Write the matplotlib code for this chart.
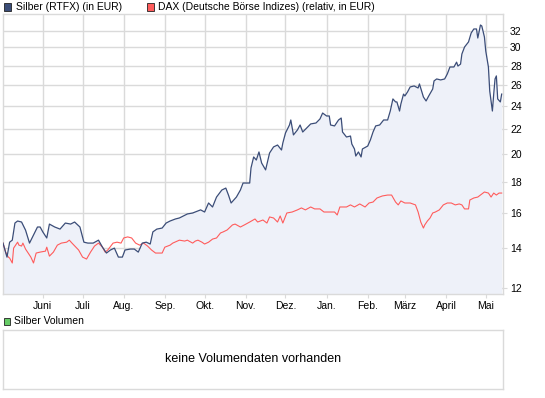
import datetime as dt
import matplotlib
matplotlib.use("Agg")
import matplotlib.pyplot as plt
import matplotlib.dates as mdates
from matplotlib.patches import Rectangle
from matplotlib.ticker import FixedLocator, NullLocator, FuncFormatter

# data: days since start, values in EUR
start = dt.date(2010, 5, 2)
end_day = 377

silber_tage = [0, 3, 5, 7, 9, 11, 14, 17, 20, 23, 26, 28, 30, 33, 35, 39, 43, 47, 51, 54,
               58, 61, 64, 68, 72, 75, 78, 81, 84, 87, 90, 92, 96, 99, 102, 105, 108, 111, 113, 116,
               120, 123, 126, 130, 133, 139, 143, 149, 152, 155, 158, 161, 165, 168, 170, 172, 176, 179, 181, 186,
               187, 189, 191, 193, 195, 198, 201, 204, 207, 210, 211, 213, 216, 217, 219, 222, 224, 226, 229, 232,
               236, 239, 241, 244, 246, 247, 250, 253, 255, 256, 259, 262, 263, 265, 266, 268, 270, 271, 275, 277,
               279, 281, 284, 287, 290, 292, 294, 296, 297, 299, 300, 302, 303, 305, 307, 310, 313, 314, 317, 319,
               321, 324, 325, 327, 330, 333, 335, 337, 340, 342, 343, 345, 346, 348, 351, 353, 355, 357, 358, 360,
               361, 363, 364, 366, 367, 369, 370, 371, 372, 373, 375, 376]
silber_werte = [14.24, 13.50, 14.29, 14.40, 15.37, 15.49, 15.43, 14.96, 14.24, 14.69, 15.14, 15.14, 14.86, 14.52, 15.31, 15.14, 15.02, 15.37, 15.31, 15.43,
                15.14, 14.29, 14.24, 14.24, 14.40, 14.02, 13.71, 13.87, 13.97, 13.50, 13.50, 13.87, 13.92, 13.92, 13.76, 14.24, 14.29, 14.19, 14.86, 15.02,
                15.08, 15.37, 15.49, 15.61, 15.67, 15.91, 15.97, 16.16, 16.03, 16.59, 16.34, 16.97, 17.43, 17.56, 17.10, 16.59, 16.97, 17.43, 17.90, 17.90,
                18.96, 19.77, 19.54, 20.15, 19.32, 18.82, 20.07, 20.54, 20.69, 20.30, 20.85, 21.66, 22.33, 22.76, 21.50, 21.91, 22.33, 21.74, 22.08, 22.42,
                22.50, 22.85, 23.37, 23.11, 23.11, 22.33, 22.25, 22.76, 22.93, 21.74, 21.33, 21.41, 20.77, 20.38, 19.84, 20.15, 19.77, 20.38, 20.61, 21.09,
                21.74, 22.25, 22.33, 22.76, 22.76, 23.55, 24.66, 24.38, 24.38, 23.55, 24.19, 25.12, 24.94, 25.32, 25.81, 25.91, 25.71, 26.11, 24.84, 24.47,
                24.94, 25.61, 26.41, 26.61, 26.51, 26.61, 27.12, 27.85, 27.85, 28.37, 27.95, 28.16, 29.26, 30.05, 30.64, 31.70, 32.19, 32.19, 31.10, 32.68,
                32.56, 31.22, 29.60, 27.85, 25.41, 23.55, 25.12, 26.61, 26.92, 24.66, 24.38, 25.12]

dax_tage = [0, 2, 4, 5, 7, 8, 11, 12, 14, 15, 17, 20, 21, 23, 25, 28, 32, 33, 35, 38,
            41, 44, 48, 50, 52, 55, 57, 60, 63, 66, 69, 72, 75, 77, 79, 83, 86, 89, 91, 94,
            97, 100, 103, 106, 109, 112, 115, 118, 120, 122, 126, 128, 133, 137, 139, 143, 145, 147, 150, 152,
            155, 158, 161, 164, 166, 169, 173, 175, 179, 182, 186, 190, 192, 196, 199, 201, 204, 207, 209, 211,
            214, 218, 222, 225, 228, 232, 235, 239, 242, 246, 250, 252, 254, 259, 262, 265, 269, 273, 276, 279,
            282, 286, 290, 293, 296, 298, 300, 303, 307, 311, 313, 315, 317, 318, 320, 322, 324, 326, 329, 332,
            335, 338, 341, 344, 346, 348, 351, 352, 355, 358, 361, 363, 366, 368, 370, 372, 374, 376]
dax_werte = [14.24, 13.76, 13.50, 13.45, 13.20, 13.97, 14.29, 14.13, 14.08, 14.24, 13.92, 13.61, 13.50, 13.20, 13.71, 13.76, 13.81, 14.02, 13.55, 13.76,
             14.13, 14.24, 14.29, 14.40, 14.24, 14.02, 13.87, 13.50, 13.40, 13.76, 14.08, 14.24, 14.02, 13.76, 13.87, 14.24, 14.29, 14.24, 14.52, 14.58,
             14.52, 14.24, 14.13, 14.24, 14.08, 13.87, 13.71, 13.71, 13.71, 14.02, 14.13, 14.24, 14.40, 14.35, 14.40, 14.24, 14.35, 14.40, 14.29, 14.19,
             14.29, 14.46, 14.52, 14.80, 14.86, 14.97, 15.26, 15.31, 15.14, 15.26, 15.43, 15.61, 15.43, 15.55, 15.37, 15.73, 15.67, 15.43, 15.79, 15.37,
             15.97, 16.03, 16.16, 16.28, 16.16, 16.34, 16.22, 16.22, 16.03, 16.03, 16.03, 15.85, 16.34, 16.34, 16.47, 16.34, 16.53, 16.34, 16.59, 16.65,
             16.91, 17.04, 17.10, 17.10, 16.65, 16.47, 16.72, 16.59, 16.59, 16.47, 16.03, 15.43, 15.08, 15.26, 15.49, 15.67, 15.97, 16.03, 16.16, 16.47,
             16.59, 16.59, 16.47, 16.53, 16.47, 16.22, 16.22, 16.78, 16.91, 16.97, 17.17, 17.30, 17.23, 16.97, 17.23, 17.10, 17.23, 17.23]

y_ticks = [12, 14, 16, 18, 20, 22, 24, 26, 28, 30, 32]
monate = ["Jan.", "Feb.", "März", "April", "Mai", "Juni", "Juli", "Aug.", "Sep.", "Okt.", "Nov.", "Dez."]

blau = "#3b4d78"
rot = "#ff5c5c"
flaeche = "#eef1f9"
gitter = "#dadada"

plt.rcParams["font.family"] = ["Liberation Sans", "DejaVu Sans"]

silber_dates = [start + dt.timedelta(days=d) for d in silber_tage]
dax_dates = [start + dt.timedelta(days=d) for d in dax_tage]

fig = plt.figure(figsize=(5.45, 3.98), dpi=100)
ax = fig.add_axes([3 / 545, 1 - 294 / 398, 500 / 545, 280 / 398])

ax.set_yscale("log")
ax.fill_between(silber_dates, silber_werte, 10, color=flaeche, lw=0, zorder=1)
ax.plot(dax_dates, dax_werte, color=rot, lw=0.8, zorder=3)
ax.plot(silber_dates, silber_werte, color=blau, lw=0.9, zorder=4)

ax.set_xlim(start, start + dt.timedelta(days=end_day))
ax.set_ylim(11.73, 34.08)

# y axis on the right
ax.yaxis.tick_right()
ax.yaxis.set_major_locator(FixedLocator(y_ticks))
ax.yaxis.set_minor_locator(NullLocator())
ax.yaxis.set_major_formatter(FuncFormatter(lambda v, p: "%d" % v))
ax.tick_params(axis="y", length=3, color=gitter, labelsize=7.5, pad=2)

# months along x
ax.xaxis.set_major_locator(mdates.MonthLocator())
ax.xaxis.set_major_formatter(FuncFormatter(lambda v, p: monate[mdates.num2date(v).month - 1]))
ax.tick_params(axis="x", length=3, color=gitter, labelsize=7.5, pad=2)

ax.grid(True, color=gitter, lw=1.0, zorder=0)
ax.set_axisbelow(True)
for s in ax.spines.values():
    s.set_color(gitter)
    s.set_linewidth(1.0)

# legend on top
fig.patches.append(Rectangle((3.5 / 545, 1 - 10.5 / 398), 7 / 545, 7 / 398, transform=fig.transFigure,
                             facecolor=blau, edgecolor="#222222", lw=0.6))
fig.text(16 / 545, 1 - 7 / 398, "Silber (RTFX) (in EUR)", fontsize=7.5, va="center")
fig.patches.append(Rectangle((147 / 545, 1 - 10.5 / 398), 7 / 545, 7 / 398, transform=fig.transFigure,
                             facecolor=rot, edgecolor="#222222", lw=0.6))
fig.text(158 / 545, 1 - 7 / 398, "DAX (Deutsche Börse Indizes) (relativ, in EUR)", fontsize=7.5, va="center")

# volume panel
fig.patches.append(Rectangle((3.5 / 545, 1 - 325 / 398), 6 / 545, 7 / 398, transform=fig.transFigure,
                             facecolor="#66cc66", edgecolor="#222222", lw=0.6))
fig.text(14 / 545, 1 - 321.5 / 398, "Silber Volumen", fontsize=7.5, va="center")

ax2 = fig.add_axes([3 / 545, 1 - 389 / 398, 500 / 545, 59 / 398])
ax2.set_xticks([])
ax2.set_yticks([])
for s in ax2.spines.values():
    s.set_color(gitter)
    s.set_linewidth(1.0)
ax2.text(0.5, 0.5, "keine Volumendaten vorhanden", transform=ax2.transAxes,
         ha="center", va="center", fontsize=9)

fig.savefig("out.png", dpi=100)
